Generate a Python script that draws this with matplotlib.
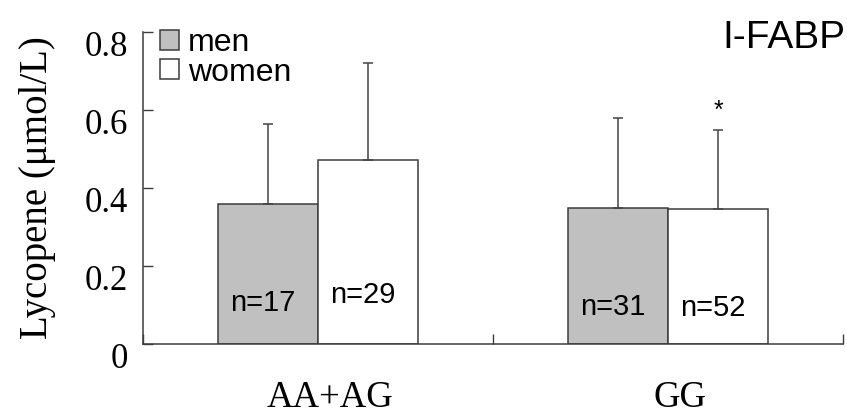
import numpy as np
import matplotlib.pyplot as plt
import matplotlib.transforms as mtransforms
from matplotlib.patches import Patch

# values
groups = ["AA+AG", "GG"]
men_mean = [0.359, 0.349]
men_sd = [0.206, 0.230]
women_mean = [0.472, 0.346]
women_sd = [0.248, 0.203]
men_n = ["n=17", "n=31"]
women_n = ["n=29", "n=52"]
women_star = ["", "*"]

plt.rcParams["font.family"] = "Liberation Serif"
sans = "Liberation Sans"
dark = "#3c3c3c"

fig = plt.figure(figsize=(8.47, 4.18), dpi=100)
ax = fig.add_axes([143 / 847, 74 / 418, 700 / 847, 312 / 418])

x = np.arange(len(groups)) + 0.5
w = 0.2857
err_kw = dict(ecolor="#444444", elinewidth=1.1, capsize=3.6, capthick=1.1)
ax.bar(x - w / 2, men_mean, w, color="#c0c0c0", edgecolor=dark, linewidth=1.1,
       yerr=[np.zeros(len(groups)), men_sd], error_kw=err_kw)
ax.bar(x + w / 2, women_mean, w, color="white", edgecolor=dark, linewidth=1.1,
       yerr=[np.zeros(len(groups)), women_sd], error_kw=err_kw)

# n labels inside the bars
nudge = 5 / 350
men_ny = [0.085, 0.074]
women_ny = [0.105, 0.072]
for i in range(len(groups)):
    ax.text(x[i] - w / 2 - nudge, men_ny[i], men_n[i], ha="center", va="baseline",
            fontsize=21, family=sans)
    ax.text(x[i] + w / 2 - nudge, women_ny[i], women_n[i], ha="center", va="baseline",
            fontsize=21, family=sans)
    if women_star[i]:
        ax.text(x[i] + w / 2, women_mean[i] + women_sd[i] + 0.03, women_star[i],
                ha="center", va="baseline", fontsize=18, family=sans)

ax.set_xlim(0, 2)
ax.set_ylim(0, 0.8)
ax.set_yticks([0, 0.2, 0.4, 0.6, 0.8])
ax.set_yticklabels(["0", "0.2", "0.4", "0.6", "0.8"])
ax.set_xticks([0, 1, 2])
ax.set_xticklabels([])
ax.set_xticks(x, minor=True)
ax.set_xticklabels(groups, minor=True)

ax.tick_params(axis="y", direction="in", length=7.2, width=1, color=dark,
               labelsize=25, pad=10.8)
ax.tick_params(axis="x", which="major", direction="in", length=7.2, width=1, color=dark)
ax.tick_params(axis="x", which="minor", length=0, labelsize=26.5, pad=26)

for s in ["top", "right"]:
    ax.spines[s].set_visible(False)
for s in ["left", "bottom"]:
    ax.spines[s].set_color(dark)
    ax.spines[s].set_linewidth(1.1)

# excel-style offsets of tick labels
down = mtransforms.ScaledTranslation(0, -11 / 100, fig.dpi_scale_trans)
for lab in ax.get_yticklabels():
    lab.set_transform(lab.get_transform() + down)
right = mtransforms.ScaledTranslation(12 / 100, 0, fig.dpi_scale_trans)
for lab in ax.get_xticklabels(minor=True):
    lab.set_transform(lab.get_transform() + right)

ax.set_ylabel("Lycopene (μmol/L)", fontsize=28)
ax.yaxis.set_label_coords(-0.124, 0.5)

handles = [Patch(facecolor="#c0c0c0", edgecolor=dark, linewidth=1.1),
           Patch(facecolor="white", edgecolor=dark, linewidth=1.1)]
ax.legend(handles, ["men", "women"], loc="upper left", bbox_to_anchor=(17 / 700, 1.012),
          frameon=False, prop={"family": sans, "size": 23}, handlelength=0.58,
          handleheight=0.58, handletextpad=0.3, labelspacing=-0.02, borderpad=0,
          borderaxespad=0)

fig.text(0.998, 1 - 48 / 418, "I-FABP", ha="right", va="baseline", fontsize=28, family=sans)

fig.savefig("out.png", dpi=100)
